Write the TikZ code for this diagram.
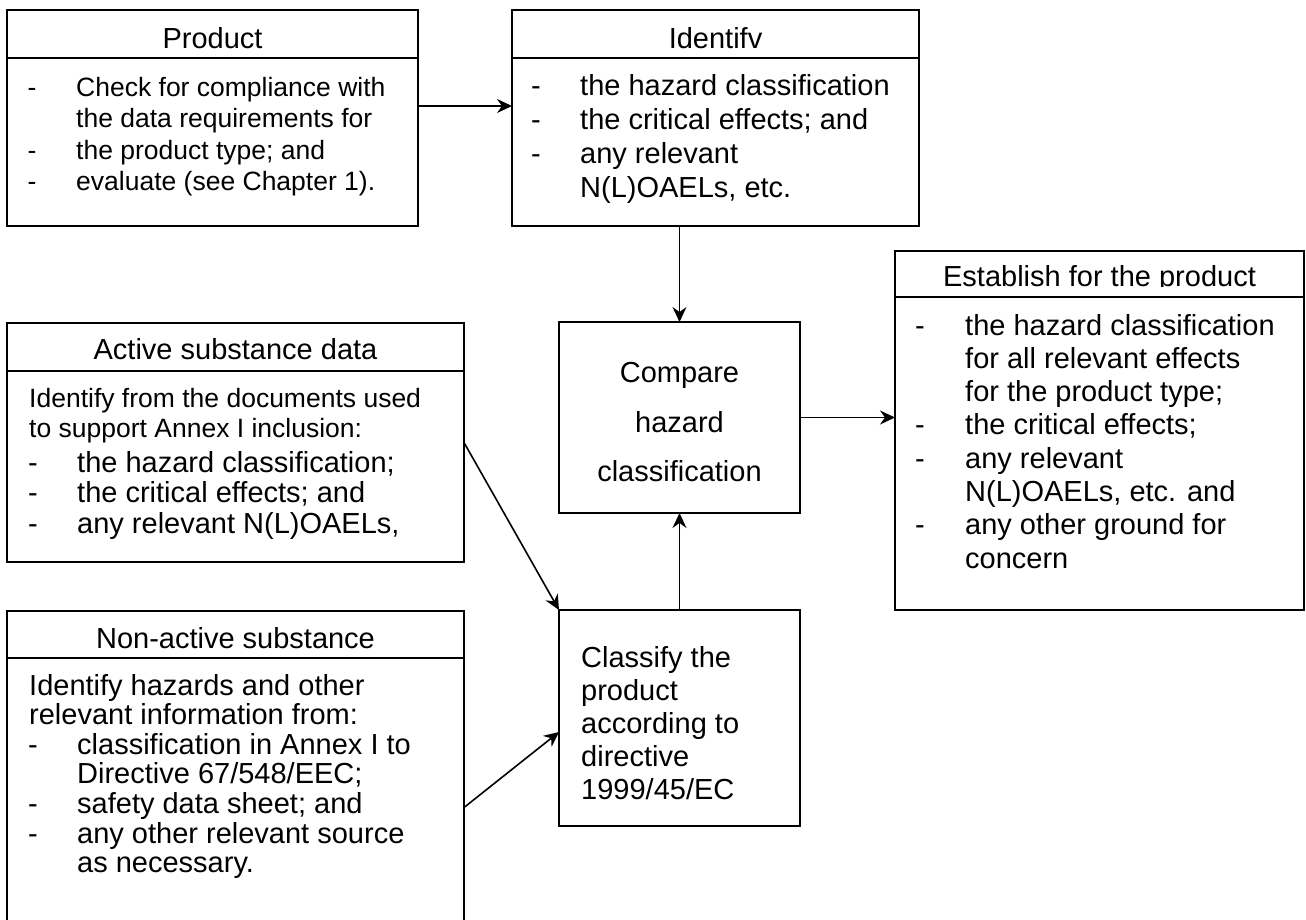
\documentclass[tikz,border=0pt]{standalone}
\usepackage{fontspec}
\setmainfont{Liberation Sans}
\usetikzlibrary{arrows.meta}
\begin{document}
\begin{tikzpicture}[x=1pt,y=-1pt,
  box/.style={draw, line width=1.8pt, inner sep=0pt, outer sep=0pt, anchor=north west},
  hline/.style={line width=1.8pt},
  hdr/.style={anchor=base, inner sep=0pt, font=\fontsize{29}{34}\selectfont},
  txt/.style={anchor=base west, inner sep=0pt, font=\fontsize{29}{34}\selectfont},
  ptxt/.style={anchor=base west, inner sep=0pt, font=\fontsize{26.5}{31}\selectfont},
  ctxt/.style={anchor=base, inner sep=0pt, font=\fontsize{29}{34}\selectfont},
  dsh/.style={anchor=base, inner sep=0pt, font=\fontsize{29}{34}\selectfont},
  arr/.style={line width=1.6pt, -{Stealth[length=15pt,width=14pt,inset=5pt]}},
]
\useasboundingbox (0,0) rectangle (1306,919);

% Product
\node[box, minimum width=411pt, minimum height=216pt] (prod) at (7,10) {};
\draw[hline] ([yshift=-48pt]prod.north west) -- ([yshift=-48pt]prod.north east);
\node[hdr] (prodh) at (212.5,48) {Product};
\foreach \t [count=\i from 0] in {{Check for compliance with},{the data requirements for},{the product type; and},{evaluate (see Chapter 1).}}
  \node[ptxt] (prodl\i) at (76,{96+31.6*\i}) {\t};
\foreach \r [count=\i] in {0,2,3}
  \node[dsh, font=\fontsize{26.5}{31}\selectfont] (prodd\i) at (32,{96+31.6*\r}) {-};

% Identify
\node[box, minimum width=407pt, minimum height=216pt] (iden) at (512,10) {};
\draw[hline] ([yshift=-48pt]iden.north west) -- ([yshift=-48pt]iden.north east);
\node[hdr] (idenh) at (715.5,48) {Identifv};
\foreach \t [count=\i from 0] in {{the hazard classification},{the critical effects; and},{any relevant},{N(L)OAELs, etc.}}
  \node[txt] (idenl\i) at (580,{95+34*\i}) {\t};
\foreach \r [count=\i] in {0,1,2}
  \node[dsh] (idend\i) at (536,{95+34*\r}) {-};

% Compare
\node[box, minimum width=241pt, minimum height=191pt] (cmp) at (559,322) {};
\node[ctxt] (cmp1) at (679.5,382) {Compare};
\node[ctxt] (cmp2) at (679.5,432) {hazard};
\node[ctxt] (cmp3) at (679.5,481) {classification};

% Establish
\node[box, minimum width=409pt, minimum height=359pt] (est) at (895,251) {};
\draw[hline] ([yshift=-46pt]est.north west) -- ([yshift=-46pt]est.north east);
\begin{scope}
  \clip (895,251) rectangle (1304,286.5);
  \node[hdr] (esth) at (1099.5,286.5) {Establish for the product};
\end{scope}
\foreach \t [count=\i from 0] in {{the hazard classification},{for all relevant effects},{for the product type;},{the critical effects;},{any relevant},{N(L)OAELs, etc. and},{any other ground for},{concern}}
  \node[txt] (estl\i) at (965,{335+33.3*\i}) {\t};
\foreach \r [count=\i] in {0,3,4,6}
  \node[dsh] (estd\i) at (920,{335+33.3*\r}) {-};

% Active substance data
\node[box, minimum width=457pt, minimum height=239pt] (act) at (7,323) {};
\draw[hline] ([yshift=-48pt]act.north west) -- ([yshift=-48pt]act.north east);
\node[hdr] (acth) at (235.5,359) {Active substance data};
\node[ptxt] (actl0) at (29,407) {Identify from the documents used};
\node[ptxt] (actl1) at (29,437) {to support Annex I inclusion:};
\foreach \t [count=\i from 2] in {{the hazard classification;},{the critical effects; and},{any relevant N(L)OAELs,}}
  \node[txt] (actl\i) at (77,{472+30.5*(\i-2)}) {\t};
\foreach \r [count=\i] in {0,1,2}
  \node[dsh] (actd\i) at (33,{472+30.5*\r}) {-};

% Non-active substance
\node[box, minimum width=457pt, minimum height=340pt] (na) at (7,611) {};
\draw[hline] ([yshift=-47pt]na.north west) -- ([yshift=-47pt]na.north east);
\node[hdr] (nah) at (235.5,648) {Non-active substance};
\node[txt] (nal0) at (29,695) {Identify hazards and other};
\node[txt] (nal1) at (29,{695+29.6}) {relevant information from:};
\foreach \t [count=\i from 2] in {{classification in Annex I to},{Directive 67/548/EEC;},{safety data sheet; and},{any other relevant source},{as necessary.}}
  \node[txt] (nal\i) at (77,{695+29.6*\i}) {\t};
\foreach \r [count=\i] in {2,4,5}
  \node[dsh] (nad\i) at (33,{695+29.6*\r}) {-};

% Classify
\node[box, minimum width=241pt, minimum height=216pt] (cls) at (559,610) {};
\foreach \t [count=\i from 0] in {{Classify the},{product},{according to},{directive},{1999/45/EC}}
  \node[txt] (clsl\i) at (581,{667+33*\i}) {\t};

% Connectors
\path (na.east) ++(0,26.5) coordinate (nas);
\draw[arr] ([yshift=12pt]prod.east) -- ([yshift=12pt]iden.west);
\draw[arr] (iden.south -| cmp.north) -- (cmp.north);
\draw[arr] (cmp.east) -- (est.west |- cmp.east);
\draw[arr] (cls.north) -- (cmp.south);
\draw[arr] (act.east) -- (cls.north west);
\draw[arr] (nas) -- ([yshift=-14pt]cls.west);
\end{tikzpicture}
\end{document}
